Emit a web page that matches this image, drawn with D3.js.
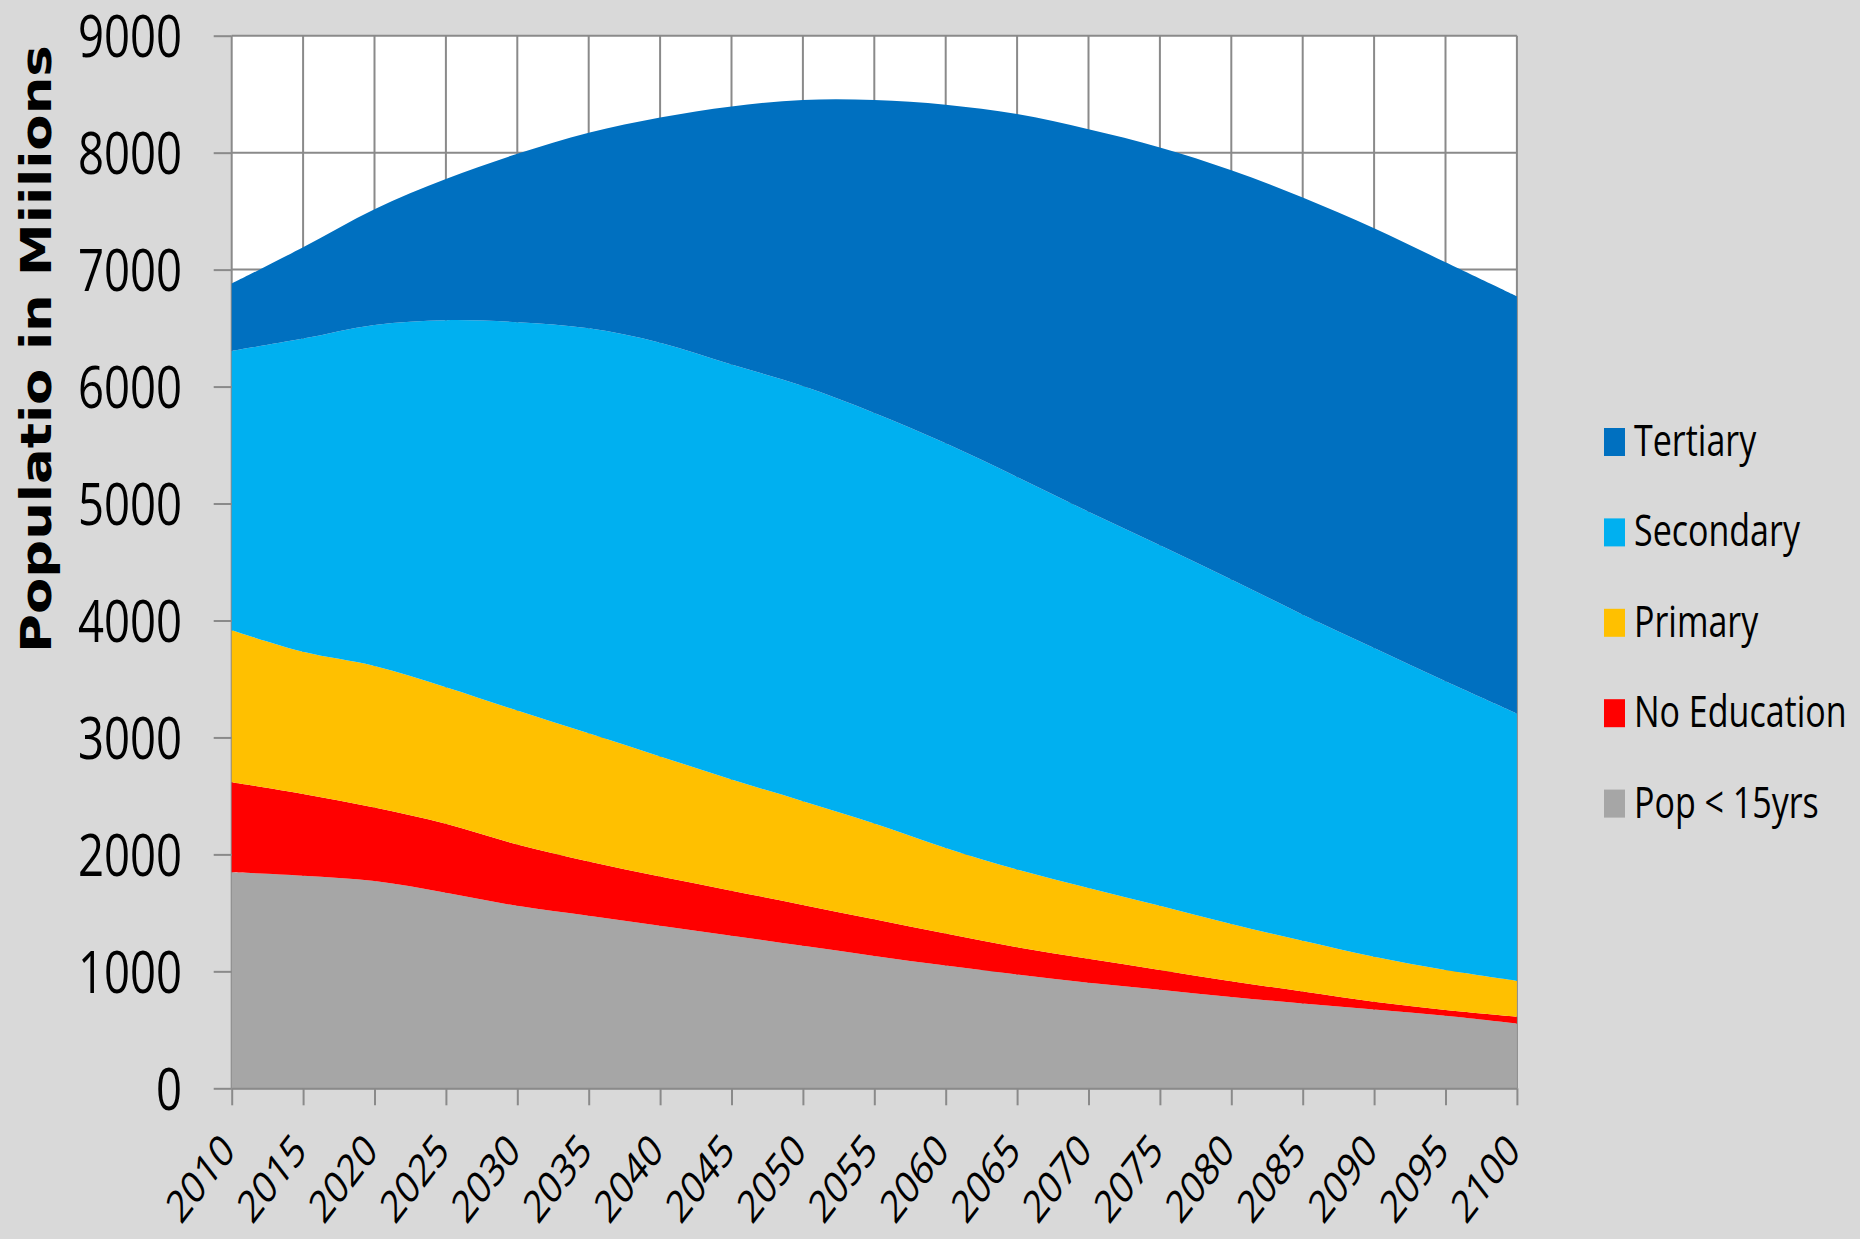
<!DOCTYPE html>
<html>
<head>
<meta charset="utf-8">
<script src="https://cdn.jsdelivr.net/npm/d3@7"></script>
<style>
  html, body { margin: 0; padding: 0; background: #d9d9d9; }
  svg { display: block; }
</style>
</head>
<body>
<svg id="chart" width="1860" height="1239"></svg>
<script>
// ---- data (millions) ----
const years = [2010, 2015, 2020, 2025, 2030, 2035, 2040, 2045, 2050, 2055, 2060, 2065, 2070, 2075, 2080, 2085, 2090, 2095, 2100];
const popUnder15  = [1847, 1818, 1772, 1672, 1560, 1475, 1390, 1305, 1218, 1131, 1049, 973, 903, 843, 781, 725, 673, 620, 554];
const noEducation = [770, 699, 628, 590, 525, 465, 420, 385, 350, 314, 274, 233, 204, 169, 134, 103, 67, 50, 58];
const primary     = [1299, 1215, 1211, 1168, 1145, 1095, 1028, 950, 887, 820, 732, 664, 606, 548, 490, 434, 385, 342, 308];
const secondary   = [2389, 2678, 2916, 3138, 3320, 3463, 3537, 3549, 3550, 3510, 3460, 3357, 3217, 3084, 2946, 2788, 2640, 2468, 2285];
const tertiary    = [575, 781, 990, 1206, 1440, 1672, 1925, 2206, 2445, 2675, 2895, 3103, 3270, 3401, 3499, 3567, 3589, 3583, 3567];
const seriesKeys  = ["Pop < 15yrs", "No Education", "Primary", "Secondary", "Tertiary"];
const seriesColors = ["#a6a6a6", "#ff0000", "#ffc000", "#00b0f0", "#0070c0"];
const yTicks = [0, 1000, 2000, 3000, 4000, 5000, 6000, 7000, 8000, 9000];
const yTitle = "Populatio in Miilions";

// ---- table ----
const table = years.map((yr, i) => ({
  year: yr,
  "Pop < 15yrs": popUnder15[i],
  "No Education": noEducation[i],
  "Primary": primary[i],
  "Secondary": secondary[i],
  "Tertiary": tertiary[i]
}));

const svg = d3.select("#chart");
const pLeft = 231.7, pRight = 1516.9, pTop = 35.7, pBottom = 1088.3;
const x = d3.scaleLinear().domain([2010, 2100]).range([pLeft, pRight]);
const y = d3.scaleLinear().domain([0, 9000]).range([pBottom, pTop]);
const color = d3.scaleOrdinal().domain(seriesKeys).range(seriesColors);
const gridColor = "#8a8a8a";
const SY = 1.3; // vertical stretch of text seen in reference

// plot background
svg.append("rect").attr("x", pLeft).attr("y", pTop)
  .attr("width", pRight - pLeft).attr("height", pBottom - pTop).attr("fill", "#ffffff");

// gridlines
const grid = svg.append("g");
grid.selectAll("line.h").data(yTicks).join("line").attr("class", "h")
  .attr("x1", pLeft).attr("x2", pRight)
  .attr("y1", d => y(d)).attr("y2", d => y(d))
  .attr("stroke", gridColor).attr("stroke-width", 2);
grid.selectAll("line.v").data(years).join("line").attr("class", "v")
  .attr("x1", d => x(d)).attr("x2", d => x(d))
  .attr("y1", pTop).attr("y2", pBottom)
  .attr("stroke", gridColor).attr("stroke-width", 2);

// stacked areas
const stack = d3.stack().keys(seriesKeys);
const layers = stack(table);
const area = d3.area()
  .x(d => x(d.data.year))
  .y0(d => y(d[0]))
  .y1(d => y(d[1]))
  .curve(d3.curveCatmullRom.alpha(0.5));
svg.append("g").selectAll("path").data(layers).join("path")
  .attr("d", area)
  .attr("fill", d => color(d.key));

// axes (lines + ticks)
const yAxis = d3.axisLeft(y).tickValues(yTicks).tickSize(18).tickFormat("").tickSizeOuter(0);
const gy = svg.append("g").attr("transform", `translate(${pLeft},0)`).call(yAxis);
gy.select(".domain").remove();
gy.selectAll(".tick line").attr("stroke", gridColor).attr("stroke-width", 2);

const xAxis = d3.axisBottom(x).tickValues(years).tickSize(17).tickFormat("").tickSizeOuter(0);
const gx = svg.append("g").attr("transform", `translate(0,${pBottom})`).call(xAxis);
gx.select(".domain").attr("stroke", gridColor).attr("stroke-width", 2);
gx.selectAll(".tick line").attr("stroke", gridColor).attr("stroke-width", 2);

// y tick labels
svg.append("g").selectAll("text").data(yTicks).join("text")
  .attr("transform", d => `translate(182,${y(d)}) scale(1,${SY})`)
  .attr("dy", "0.36em")
  .attr("text-anchor", "end")
  .attr("font-family", "'Open Sans', sans-serif")
  .attr("font-size", 45.5)
  .attr("fill", "#000")
  .text(d => d);

// x tick labels
svg.append("g").selectAll("text").data(years).join("text")
  .attr("transform", d => `translate(${x(d) + 5},1153) scale(1,${SY}) rotate(-45)`)
  .attr("text-anchor", "end")
  .attr("font-family", "'Open Sans', sans-serif")
  .attr("font-size", 34.5)
  .attr("fill", "#000")
  .text(d => d);

// y title
svg.append("text")
  .attr("transform", `translate(50.5,349) scale(1,1.26) rotate(-90)`)
  .attr("text-anchor", "middle")
  .attr("font-family", "'DejaVu Sans', sans-serif")
  .attr("font-weight", "bold")
  .attr("font-size", 42)
  .attr("fill", "#000")
  .text(yTitle);

// legend
const legendKeys = seriesKeys.slice().reverse();
const lg = svg.append("g").selectAll("g").data(legendKeys).join("g")
  .attr("transform", (d, i) => `translate(1604,${456 + i * 90.4})`);
lg.append("rect").attr("x", 0).attr("y", -28).attr("width", 21).attr("height", 28)
  .attr("fill", d => color(d));
lg.append("text")
  .attr("transform", `translate(30,0) scale(1,${SY})`)
  .attr("font-family", "'Open Sans', sans-serif")
  .attr("font-size", 34)
  .attr("fill", "#000")
  .text(d => d);
</script>
</body>
</html>
